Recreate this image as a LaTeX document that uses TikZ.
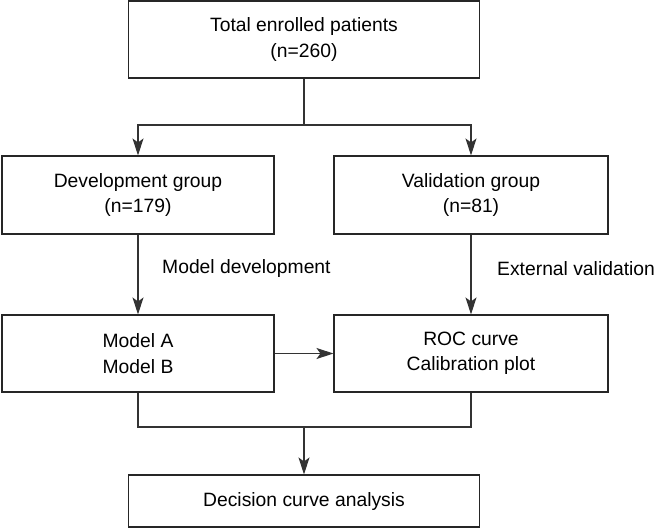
\documentclass[tikz,border=0pt]{standalone}
\usepackage{fontspec}
\setmainfont{Liberation Sans}
\usetikzlibrary{arrows.meta}
\begin{document}
\begin{tikzpicture}[x=1pt,y=-1pt,
  box/.style={draw=black!85, line width=1.1pt, rectangle, align=center, inner sep=0pt,
    font=\fontsize{19.3}{25.5}\selectfont},
  conn/.style={draw=black!80, line width=1.1pt},
  arr/.style={conn, -{Stealth[length=17pt,width=11pt,inset=4pt]}},
  lbl/.style={font=\fontsize{19.3}{25.5}\selectfont, anchor=west, inner sep=0pt}]
\useasboundingbox (0,0) rectangle (655,528);
\node[box, minimum width=351pt, minimum height=77pt] (top) at (304,39.5) {Total enrolled patients\\(n=260)};
\node[box, minimum width=272pt, minimum height=78pt] (dev) at (138,195) {Development group\\(n=179)};
\node[box, minimum width=274pt, minimum height=78pt] (val) at (471,195) {Validation group\\(n=81)};
\node[box, minimum width=272pt, minimum height=77pt] (mod) at (138,353.5) {Model A\\Model B};
\node[box, minimum width=274pt, minimum height=77pt] (roc) at (471,353.5) {ROC curve\\Calibration plot};
\node[box, minimum width=351pt, minimum height=52pt] (dca) at (304,501) {Decision curve analysis};
\coordinate (s1) at (304,125);
\coordinate (s2) at (304,427);
\draw[conn] (top.south) -- (s1);
\draw[arr] (s1) -| (dev.north);
\draw[arr] (s1) -| (val.north);
\draw[arr] (dev.south) -- (mod.north);
\draw[arr] (val.south) -- (roc.north);
\draw[arr] (mod.east) -- (roc.west);
\draw[conn] (mod.south) |- (s2) -| (roc.south);
\draw[arr] (s2) -- (dca.north);
\node[lbl] (l1) at (162,269) {Model development};
\node[lbl] (l2) at (497,269) {External validation};
\end{tikzpicture}
\end{document}
